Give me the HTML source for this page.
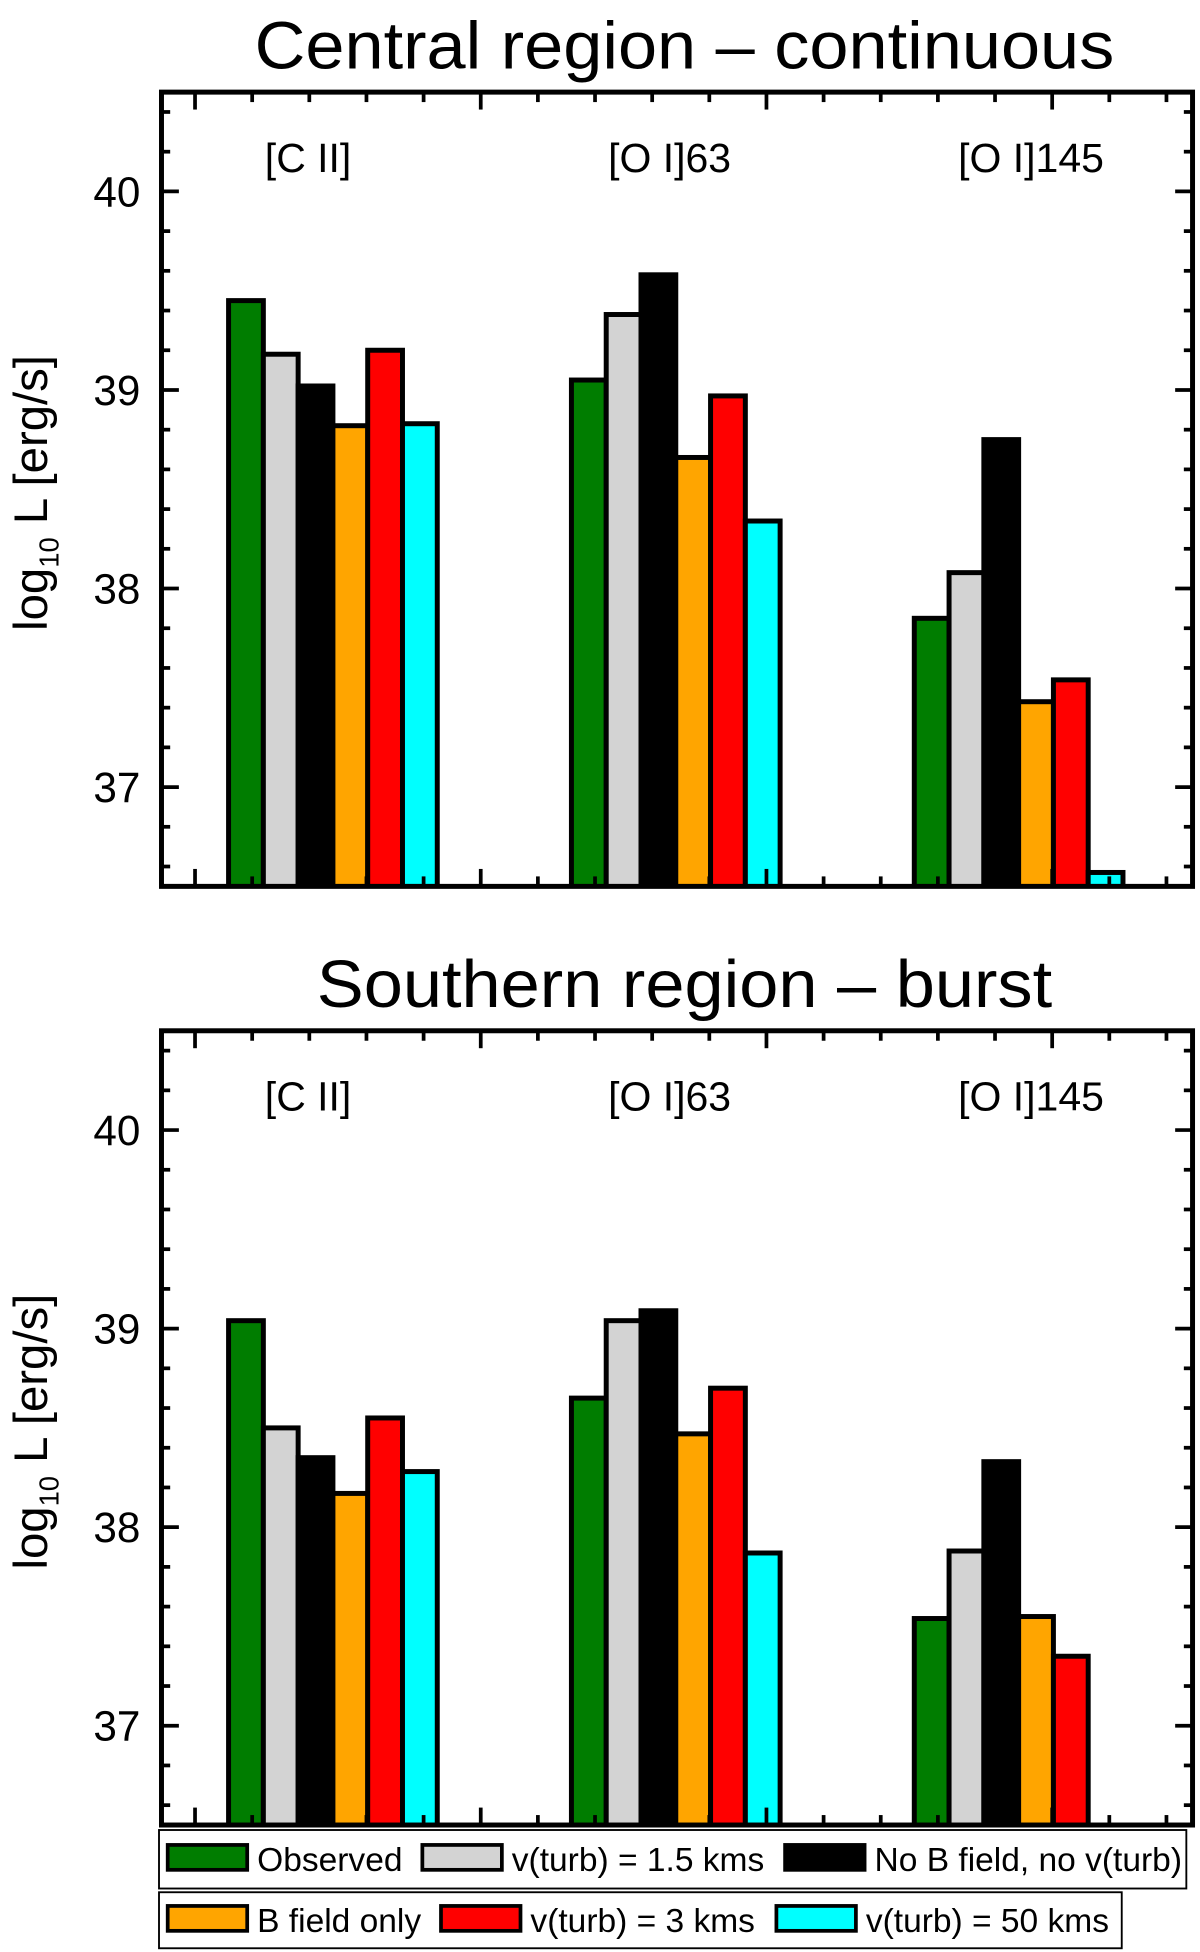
<!DOCTYPE html>
<html><head><meta charset="utf-8"><style>
html,body{margin:0;padding:0;background:#fff}
svg{display:block}
text{font-family:"Liberation Sans",sans-serif;fill:#000}
</style></head><body>
<svg id="chart" width="1200" height="1952" viewBox="0 0 966 1568" preserveAspectRatio="none" xmlns="http://www.w3.org/2000/svg"></svg>
<script>
const categories = ["[C II]", "[O I]63", "[O I]145"];
const seriesNames = ["Observed", "v(turb) = 1.5 kms", "No B field, no v(turb)", "B field only", "v(turb) = 3 kms", "v(turb) = 50 kms"];
const seriesColors = ["#007d00", "#d3d3d3", "#000000", "#ffa500", "#ff0000", "#00ffff"];
const centralValues = [
  [39.45, 39.05, 37.85],
  [39.18, 39.38, 38.08],
  [39.02, 39.58, 38.75],
  [38.82, 38.66, 37.43],
  [39.20, 38.97, 37.54],
  [38.83, 38.34, 36.57]
];
const southernValues = [
  [39.04, 38.65, 37.54],
  [38.50, 39.04, 37.88],
  [38.35, 39.09, 38.33],
  [38.17, 38.47, 37.55],
  [38.55, 38.70, 37.35],
  [38.28, 37.87, 36.30]
];
const yTicks = [37, 38, 39, 40];
const yMin = 36.5, yMax = 40.5;

const NS = "http://www.w3.org/2000/svg";
const svg = document.getElementById("chart");
function mk(tag, attrs, parent) {
  const e = document.createElementNS(NS, tag);
  for (const k in attrs) e.setAttribute(k, attrs[k]);
  (parent || svg).appendChild(e);
  return e;
}

function panel(top, title, values, key) {
  const L = 130, R = 960, T = top, B = top + 638;
  const g = mk("g", {});
  
  
  const yS = v => B - (v - yMin) / (yMax - yMin) * (B - T);
  const groupX = i => 184 + i * 276;
  const barW = 28;
  const t = mk("text", {x: 551, y: T - 19, "font-size": 54, "text-anchor": "middle", textLength: 692, lengthAdjust: "spacingAndGlyphs"}, g);
  t.textContent = title;
  
  
  if (key === "southern") { t.setAttribute("textLength", 592); }
  const clip = mk("clipPath", {id: "clip" + key}, g);
  mk("rect", {x: L, y: T, width: R - L, height: B - T}, clip);
  const bars = mk("g", {"clip-path": "url(#clip" + key + ")"}, g);
  values.forEach((ser, s) => {
    ser.forEach((v, c) => {
      const x = groupX(c) + s * barW;
      const y = yS(v);
      const r = mk("rect", {x: x, y: y, width: barW, height: Math.max(0, B - y + 4), fill: seriesColors[s], stroke: "#000", "stroke-width": 4}, bars);
      
      
    });
  });
  for (let v = 36.6; v < 40.5; v += 0.2) {
    const y = yS(v);
    const major = Math.abs(v - Math.round(v)) < 0.01;
    const len = major ? 14 : 7;
    mk("line", {x1: L, x2: L + len, y1: y, y2: y, stroke: "#000", "stroke-width": 3}, g);
    mk("line", {x1: R, x2: R - len, y1: y, y2: y, stroke: "#000", "stroke-width": 3}, g);
  }
  for (let x = 157; x < R; x += 46) {
    const major = ((x - 157) / 46) % 5 === 0;
    const len = major ? 14 : 8;
    mk("line", {x1: x, x2: x, y1: B, y2: B - len, stroke: "#000", "stroke-width": 3}, g);
    mk("line", {x1: x, x2: x, y1: T, y2: T + len, stroke: "#000", "stroke-width": 3}, g);
  }
  const frame = mk("rect", {x: L, y: T, width: R - L, height: B - T, fill: "none", stroke: "#000", "stroke-width": 4}, g);
  
  
  yTicks.forEach(v => {
    const tl = mk("text", {x: 113, y: yS(v) + 12, "font-size": 34, "text-anchor": "end"}, g);
    tl.textContent = v;
    
    
  });
  categories.forEach((c, i) => {
    const tl = mk("text", {x: groupX(i) + 64 + i * 15, y: T + 64, "font-size": 33, "text-anchor": "middle"}, g);
    tl.textContent = c;
    
    
  });
  const yt = mk("text", {transform: "translate(38," + ((T + B) / 2 + 3) + ") rotate(-90)", "font-size": 38, "text-anchor": "middle"}, g);
  yt.innerHTML = 'log<tspan font-size="22" dy="9">10</tspan><tspan dy="-9"> L  [erg/s]</tspan>';
  
  
}
panel(74, "Central region \u2013 continuous", centralValues, "central");
panel(828, "Southern region \u2013 burst", southernValues, "southern");

const lg = mk("g", {});


mk("rect", {x: 128, y: 1470, width: 827, height: 47, fill: "#fff", stroke: "#000", "stroke-width": 1.5}, lg);
mk("rect", {x: 128, y: 1520, width: 775, height: 45, fill: "#fff", stroke: "#000", "stroke-width": 1.5}, lg);
const legX = [135, 340, 632, 135, 355, 625];
const legY = [1482, 1482, 1482, 1531, 1531, 1531];
seriesNames.forEach((n, i) => {
  const sw = mk("rect", {x: legX[i], y: legY[i], width: 64, height: 20, fill: seriesColors[i], stroke: "#000", "stroke-width": 3}, lg);
  
  
  const t = mk("text", {x: legX[i] + 72, y: legY[i] + 21, "font-size": 27}, lg);
  t.textContent = n;
  
  
});
</script>
</body></html>
